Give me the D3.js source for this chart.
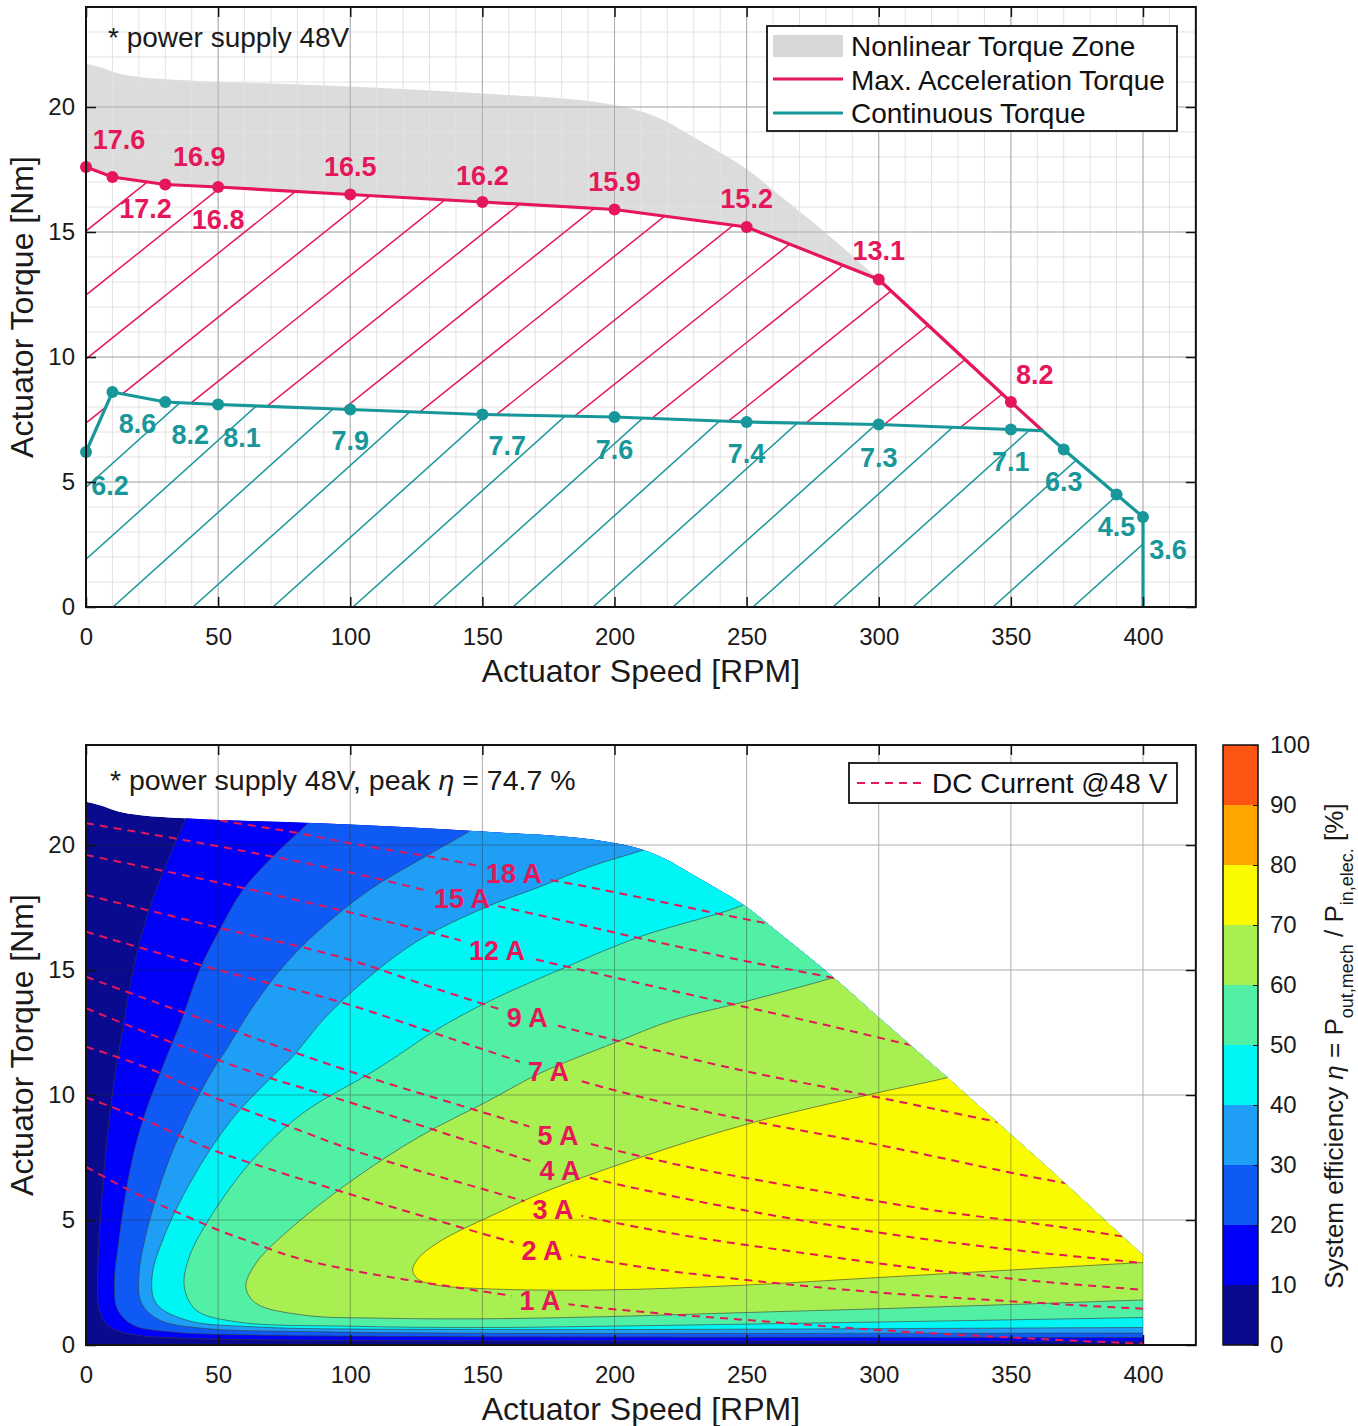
<!DOCTYPE html>
<html>
<head>
<meta charset="utf-8">
<script src="https://cdn.jsdelivr.net/npm/d3@7"></script>
<style>
  body { margin: 0; background: #fff; }
  svg { display: block; font-family: "Liberation Sans", Arial, Helvetica, sans-serif; }
</style>
</head>
<body>
<svg id="chart" width="1358" height="1426"></svg>
<script>
// ---- data ----
var speedTicks = [0, 50, 100, 150, 200, 250, 300, 350, 400];
var torqueTicks = [0, 5, 10, 15, 20];
var effTicks = [0, 10, 20, 30, 40, 50, 60, 70, 80, 90, 100];

var maxAccelRpm = [0, 10, 30, 50, 100, 150, 200, 250, 300, 350];
var maxAccelTorque = [17.6, 17.2, 16.9, 16.8, 16.5, 16.2, 15.9, 15.2, 13.1, 8.2];
var contRpm = [0, 10, 30, 50, 100, 150, 200, 250, 300, 350, 370, 390, 400];
var contTorque = [6.2, 8.6, 8.2, 8.1, 7.9, 7.7, 7.6, 7.4, 7.3, 7.1, 6.3, 4.5, 3.6];
var crossover = [362, 7.05]; // where the two curves meet

// upper limit of the map (also top of the nonlinear zone)
var torqueEnvelope = [[0, 21.73], [5, 21.6], [12.6, 21.33], [20, 21.2], [37.8, 21.07], [88.3, 20.87],
  [151.4, 20.53], [197, 20.13], [211, 19.8], [220, 19.4], [228.6, 18.87], [238, 18.3], [247.5, 17.7],
  [265, 16.25], [282.9, 14.7], [300, 13.1], [326, 10.7], [346, 8.8], [365, 7.0], [383, 5.25], [400, 3.6]];

// efficiency iso-lines (rpm, Nm)
var effLevels = [10, 20, 30, 40, 50, 60, 70];
var eff10 = [[43, 22.4], [37.8, 21.07], [31.5, 19.53], [25.2, 17.8], [20.2, 16.07], [16.4, 14.2], [13.2, 12.2],
  [11.3, 11.0], [8.8, 9.0], [6.9, 7.0], [5.0, 4.33], [4.4, 2.33], [5.0, 1.4], [8.8, 0.73], [18.9, 0.4],
  [37.8, 0.27], [75.7, 0.2], [151.4, 0.17], [400, 0.15], [410, 0.15]];
var eff20 = [[92, 21.7], [83.3, 20.8], [70.6, 19.53], [59.3, 18.2], [50.5, 16.6], [42.9, 15.0], [36.6, 13.13],
  [28.5, 11.0], [21.5, 9.0], [16.6, 7.0], [12.6, 4.33], [10.7, 2.33], [12.0, 1.4], [17.7, 0.8], [31.5, 0.53],
  [63, 0.4], [151, 0.33], [400, 0.3], [410, 0.3]];
var eff30 = [[155, 21.2], [143.8, 20.47], [126.1, 19.4], [107.2, 18.2], [88.3, 16.6], [75.7, 15.27], [63.1, 13.53],
  [53, 11.8], [48, 11.0], [38, 9.0], [30, 7.0], [22.5, 4.33], [20, 2.73], [21, 1.67], [27.8, 1.0], [44.1, 0.67],
  [88.3, 0.53], [151.4, 0.47], [400, 0.48], [410, 0.48]];
var eff40 = [[225, 20.3], [211, 19.8], [190.7, 19.13], [171.8, 18.33], [151, 17.5], [126.1, 16.2], [107.2, 14.73],
  [90.8, 13.13], [78.2, 11.53], [73, 11.0], [55, 9.0], [40, 6.6], [29.5, 4.33], [25, 2.73], [26.5, 1.67],
  [37.8, 1.0], [63, 0.73], [151, 0.62], [400, 0.7], [410, 0.7]];
var eff50 = [[262, 18.3], [247.5, 17.55], [209.6, 16.33], [181.9, 15.13], [151, 13.67], [132.5, 12.6], [117.3, 11.53],
  [108, 10.9], [82, 9.27], [63, 7.4], [48, 5.27], [39.1, 3.53], [37.2, 2.33], [41.6, 1.4], [56.8, 0.93],
  [100.9, 0.75], [151, 0.7], [195, 0.75], [300, 0.92], [400, 1.1], [410, 1.12]];
var eff60 = [[300, 15.3], [282.9, 14.7], [250, 13.75], [222.3, 13.0], [199.6, 12.07], [171.8, 10.87], [152, 9.75],
  [126.1, 8.33], [100.9, 6.6], [78.2, 4.73], [64.3, 3.27], [60.5, 2.33], [64.3, 1.67], [82, 1.2], [113.5, 1.07],
  [151.4, 1.05], [195, 1.13], [250, 1.3], [300, 1.45], [350, 1.62], [400, 1.8], [410, 1.83]];
var eff70 = [[345, 11.3], [326, 10.7], [300, 10.1], [252.4, 8.9], [209.6, 7.5], [173, 6.1], [151, 5.05], [140, 4.5],
  [132.5, 4.05], [126, 3.5], [123.6, 3.0], [125.5, 2.65], [132.5, 2.4], [151, 2.25], [195, 2.2], [250, 2.4],
  [300, 2.7], [350, 3.0], [400, 3.3], [410, 3.35]];

// DC current lines @48 V (rpm, Nm)
var currentAmps = [1, 2, 3, 4, 5, 7, 9, 12, 15, 18];
var currentLabelRpm = [171.8, 172.6, 176.7, 179.4, 178.6, 175, 167, 155.5, 142.3, 162];
var dc1A = [[0, 7.13], [12.6, 6.4], [25, 5.75], [38, 5.15], [50, 4.6], [63, 4.1], [76, 3.6], [100, 3.0], [126, 2.53],
  [151, 2.13], [172, 1.8], [185, 1.6], [210, 1.33], [250, 1.0], [300, 0.6], [350, 0.3], [400, 0.06], [410, 0.03]];
var dc2A = [[0, 9.9], [20, 9.1], [48, 7.8], [70.6, 7.0], [100.9, 6.0], [126, 5.2], [158.6, 4.2], [172.6, 3.8],
  [187, 3.53], [209.6, 3.13], [250, 2.6], [300, 2.1], [350, 1.75], [400, 1.45], [410, 1.4]];
var dc3A = [[0, 11.93], [25.2, 11.0], [47.9, 9.93], [70.6, 9.0], [100.9, 7.8], [151.4, 6.2], [176.7, 5.44],
  [220, 4.5], [270, 3.7], [320, 3.0], [360, 2.55], [400, 2.2], [410, 2.1]];
var dc4A = [[0, 13.47], [30, 12.2], [60.5, 11.0], [100.9, 9.67], [151.4, 7.93], [179.4, 7.0], [220, 6.0],
  [270, 5.0], [320, 4.2], [360, 3.7], [400, 3.27], [410, 3.15]];
var dc5A = [[0, 14.73], [50, 12.8], [98.4, 11.0], [151.4, 9.27], [178.6, 8.4], [220, 7.3], [270, 6.3],
  [320, 5.4], [370, 4.7], [395, 4.3], [410, 4.05]];
var dc7A = [[0, 16.53], [50, 15.0], [100, 13.6], [134, 12.4], [156.7, 11.6], [175, 10.95], [209.6, 9.93],
  [250, 9.0], [300, 8.0], [366.7, 6.55], [380, 6.3]];
var dc9A = [[0, 18.0], [50, 16.7], [100, 15.4], [134, 14.2], [167, 13.1], [200, 12.2], [247.5, 11.0],
  [300, 9.9], [346, 8.9], [365, 8.5]];
var dc12A = [[0, 19.6], [50, 18.5], [100, 17.3], [134, 16.4], [155.5, 15.8], [200, 14.7], [246, 13.6],
  [280, 12.8], [310, 12.05], [330, 11.6]];
var dc15A = [[0, 20.87], [50, 19.95], [100, 18.9], [142.3, 17.85], [160.5, 17.45], [209.6, 16.27],
  [247.5, 15.4], [282, 14.7], [300, 14.3]];
var dc18A = [[30, 21.45], [46.7, 21.07], [80.7, 20.47], [100, 20.07], [143.8, 19.27], [162, 18.85],
  [179.4, 18.53], [245, 17.13], [275, 16.5]];

// ---- styling / layout ----
var red = '#e6165a', teal = '#17979a';
var bandColors = ['#0a0a8f', '#0000fa', '#0f5af5', '#1e9ef5', '#00f5f5', '#52f0a5', '#a8f052', '#fafa00', '#ffa500', '#ff5514'];
var maxLabelOffset = [[33, -28], [33, 31], [34, -28], [0, 32], [0, -28], [0, -27], [0, -28], [0, -29], [0, -29], [24, -28]];
var contLabelOffset = [[24, 33], [25, 31], [25, 32], [24, 33], [0, 31], [25, 31], [0, 32], [0, 31], [0, 33], [0, 32], [0, 32], [0, 32], [25, 32]];
var hatchStep = 80;
var redHatch = { slope: 0.8, phase: 16 }, tealHatch = { slope: 0.9, phase: 113 };

var svg = d3.select('#chart');
var defs = svg.append('defs');

var x = d3.scaleLinear().domain([0, 420]).range([86, 86 + 420 * 1057 / 400]);
var yTop = d3.scaleLinear().domain([0, 24]).range([607, 7]);
var yBot = d3.scaleLinear().domain([0, 24]).range([1345, 745]);
var yBar = d3.scaleLinear().domain([0, 100]).range([1345, 745]);

function lineFor(yS, curve) {
    return d3.line().x(function (d) { return x(d[0]); }).y(function (d) { return yS(d[1]); }).curve(curve || d3.curveLinear);
}

function drawGrid(g, yS, step, ystep, color) {
    g.selectAll(null).data(d3.range(step, 420, step)).enter().append('line')
        .attr('x1', function (d) { return x(d); }).attr('x2', function (d) { return x(d); })
        .attr('y1', yS(0)).attr('y2', yS(24))
        .attr('stroke', color).attr('stroke-width', 1);
    g.selectAll(null).data(d3.range(ystep, 24, ystep)).enter().append('line')
        .attr('x1', x(0)).attr('x2', x(420))
        .attr('y1', function (d) { return yS(d); }).attr('y2', function (d) { return yS(d); })
        .attr('stroke', color).attr('stroke-width', 1);
}

function drawAxes(g, yS) {
    g.append('g').attr('transform', 'translate(0,' + yS(0) + ')')
        .call(d3.axisBottom(x).tickValues(speedTicks).tickSizeInner(-10).tickSizeOuter(0).tickPadding(21));
    g.append('g').attr('transform', 'translate(' + x(0) + ',0)')
        .call(d3.axisLeft(yS).tickValues(torqueTicks).tickSizeInner(-10).tickSizeOuter(0).tickPadding(11));
    g.append('g').attr('transform', 'translate(0,' + yS(24) + ')')
        .call(d3.axisTop(x).tickValues(speedTicks).tickSizeInner(-10).tickSizeOuter(0).tickFormat(''));
    g.append('g').attr('transform', 'translate(' + x(420) + ',0)')
        .call(d3.axisRight(yS).tickValues(torqueTicks).tickSizeInner(-10).tickSizeOuter(0).tickFormat(''));
    g.selectAll('.domain').remove();
    g.selectAll('.tick line').attr('stroke', '#111').attr('stroke-width', 1.5);
    g.selectAll('.tick text').attr('font-size', 24).attr('fill', '#1a1a1a')
        .attr('font-family', '"Liberation Sans", Arial, sans-serif');
    g.append('rect').attr('x', x(0)).attr('y', yS(24)).attr('width', x(420) - x(0)).attr('height', yS(0) - yS(24))
        .attr('fill', 'none').attr('stroke', '#111').attr('stroke-width', 2);
    g.append('text').attr('x', (x(0) + x(420)) / 2).attr('y', yS(0) + 75)
        .attr('text-anchor', 'middle').attr('font-size', 32).attr('fill', '#1a1a1a')
        .text('Actuator Speed [RPM]');
    g.append('text').attr('transform', 'translate(33,' + yS(12) + ') rotate(-90)')
        .attr('text-anchor', 'middle').attr('font-size', 32).attr('fill', '#1a1a1a')
        .text('Actuator Torque [Nm]');
}

// ================= top chart =================
var topG = svg.append('g');
var maxPts = maxAccelRpm.map(function (r, i) { return [r, maxAccelTorque[i]]; });
var contPts = contRpm.map(function (r, i) { return [r, contTorque[i]]; });
var maxLinePts = maxPts.concat([crossover]);
var contBefore = contPts.filter(function (d) { return d[0] < crossover[0]; });
var contAfter = contPts.filter(function (d) { return d[0] > crossover[0]; });
var contLinePts = contBefore.concat([crossover], contAfter);

// nonlinear zone between the envelope and the max acceleration curve
var zoneTop = torqueEnvelope.filter(function (d) { return d[0] <= 300; });
var zoneBottom = maxPts.filter(function (d) { return d[0] <= 300; }).reverse();
var zonePath = lineFor(yTop, d3.curveMonotoneX)(zoneTop) + 'L' +
    zoneBottom.map(function (d) { return x(d[0]) + ',' + yTop(d[1]); }).join('L') + 'Z';
topG.append('path').attr('d', zonePath).attr('fill', '#dcdcdc');

drawGrid(topG.append('g'), yTop, 10, 1, '#e2e2e2');
drawGrid(topG.append('g'), yTop, 50, 5, '#ababab');

// hatch regions
var redPoly = maxLinePts.concat(contBefore.concat([crossover]).reverse());
var tealPoly = contLinePts.concat([[400, 0], [0, 0]]);
defs.append('clipPath').attr('id', 'clipRedHatch').append('path').attr('d', lineFor(yTop)(redPoly) + 'Z');
defs.append('clipPath').attr('id', 'clipTealHatch').append('path').attr('d', lineFor(yTop)(tealPoly) + 'Z');

[['clipRedHatch', red, redHatch], ['clipTealHatch', teal, tealHatch]].forEach(function (h) {
    var hx = d3.range(-10, 16).map(function (k) { return h[2].phase + k * hatchStep; });
    topG.append('g').attr('clip-path', 'url(#' + h[0] + ')')
        .selectAll('line').data(hx).enter().append('line')
        .attr('x1', function (d) { return d; }).attr('y1', yTop(0))
        .attr('x2', function (d) { return d + 620 / h[2].slope; }).attr('y2', yTop(0) - 620)
        .attr('stroke', h[1]).attr('stroke-width', 1.5);
});

topG.append('path').attr('d', lineFor(yTop)(maxLinePts))
    .attr('fill', 'none').attr('stroke', red).attr('stroke-width', 3.2);
topG.append('path').attr('d', lineFor(yTop)(contLinePts.concat([[400, 0]])))
    .attr('fill', 'none').attr('stroke', teal).attr('stroke-width', 3.2);

topG.selectAll('.mdot').data(maxPts).enter().append('circle')
    .attr('cx', function (d) { return x(d[0]); }).attr('cy', function (d) { return yTop(d[1]); })
    .attr('r', 6).attr('fill', red);
topG.selectAll('.cdot').data(contPts).enter().append('circle')
    .attr('cx', function (d) { return x(d[0]); }).attr('cy', function (d) { return yTop(d[1]); })
    .attr('r', 6).attr('fill', teal);

topG.selectAll('.mlab').data(maxPts).enter().append('text')
    .attr('x', function (d, i) { return x(d[0]) + maxLabelOffset[i][0]; })
    .attr('y', function (d, i) { return yTop(d[1]) + maxLabelOffset[i][1]; })
    .attr('dy', '0.36em').attr('text-anchor', 'middle')
    .attr('font-size', 27).attr('font-weight', 'bold').attr('fill', red)
    .text(function (d) { return d[1].toFixed(1); });
topG.selectAll('.clab').data(contPts).enter().append('text')
    .attr('x', function (d, i) { return x(d[0]) + contLabelOffset[i][0]; })
    .attr('y', function (d, i) { return yTop(d[1]) + contLabelOffset[i][1]; })
    .attr('dy', '0.36em').attr('text-anchor', 'middle')
    .attr('font-size', 27).attr('font-weight', 'bold').attr('fill', teal)
    .text(function (d) { return d[1].toFixed(1); });

drawAxes(topG.append('g'), yTop);

topG.append('text').attr('x', 108).attr('y', 47).attr('font-size', 28).attr('fill', '#1a1a1a')
    .text('* power supply 48V');

// legend
var lg = topG.append('g');
lg.append('rect').attr('x', 767).attr('y', 26).attr('width', 410).attr('height', 105)
    .attr('fill', '#fff').attr('stroke', '#111').attr('stroke-width', 1.8);
lg.append('rect').attr('x', 773).attr('y', 35).attr('width', 70).attr('height', 22).attr('fill', '#d8d8d8');
lg.append('line').attr('x1', 773).attr('x2', 843).attr('y1', 79).attr('y2', 79).attr('stroke', red).attr('stroke-width', 3.2);
lg.append('line').attr('x1', 773).attr('x2', 843).attr('y1', 113).attr('y2', 113).attr('stroke', teal).attr('stroke-width', 3.2);
['Nonlinear Torque Zone', 'Max. Acceleration Torque', 'Continuous Torque'].forEach(function (t, i) {
    lg.append('text').attr('x', 851).attr('y', 56 + i * 33.5).attr('font-size', 28).attr('fill', '#111').text(t);
});

// ================= bottom chart =================
var botG = svg.append('g');
var envTop = lineFor(yBot, d3.curveMonotoneX)(torqueEnvelope);
var envPath = 'M' + x(0) + ',' + yBot(0) + 'L' + envTop.slice(1) + 'L' + x(400) + ',' + yBot(0) + 'Z';
defs.append('clipPath').attr('id', 'envClip').append('path').attr('d', envPath);

var effCurves = [eff10, eff20, eff30, eff40, eff50, eff60, eff70];
var contourLine = lineFor(yBot, d3.curveCatmullRom.alpha(0.5));
var bands = botG.append('g').attr('clip-path', 'url(#envClip)');
bands.append('path').attr('d', envPath).attr('fill', bandColors[0]);
effCurves.forEach(function (pts, i) {
    var start = pts[0], end = pts[pts.length - 1];
    var d = contourLine(pts) + 'L' + x(end[0]) + ',' + yBot(25) + 'L' + x(start[0]) + ',' + yBot(25) + 'Z';
    bands.append('path').attr('d', d).attr('fill', bandColors[effLevels[i] / 10]);
});
effCurves.forEach(function (pts) {
    bands.append('path').attr('d', contourLine(pts)).attr('fill', 'none')
        .attr('stroke', '#3a3a3a').attr('stroke-opacity', 0.6).attr('stroke-width', 1);
});

drawGrid(botG.append('g').attr('opacity', 0.38), yBot, 50, 5, '#2a2a2a');

// DC current lines with gaps behind labels
var currentCurves = [dc1A, dc2A, dc3A, dc4A, dc5A, dc7A, dc9A, dc12A, dc15A, dc18A];
var labelG = botG.append('g');
var gaps = [];
currentCurves.forEach(function (pts, i) {
    var interp = d3.scaleLinear().domain(pts.map(function (d) { return d[0]; })).range(pts.map(function (d) { return d[1]; }));
    var r = currentLabelRpm[i];
    var t = labelG.append('text').attr('x', x(r)).attr('y', yBot(interp(r))).attr('dy', '0.36em')
        .attr('text-anchor', 'middle').attr('font-size', 27).attr('font-weight', 'bold').attr('fill', red)
        .text(currentAmps[i] + ' A');
    var bb = t.node().getBBox();
    gaps.push([bb.x - 8, bb.y + 2, bb.width + 16, bb.height - 4]);
});
var mask = defs.append('mask').attr('id', 'gapMask').attr('maskUnits', 'userSpaceOnUse')
    .attr('x', 0).attr('y', 0).attr('width', 1358).attr('height', 1426);
mask.append('rect').attr('width', 1358).attr('height', 1426).attr('fill', '#fff');
gaps.forEach(function (g) {
    mask.append('rect').attr('x', g[0]).attr('y', g[1]).attr('width', g[2]).attr('height', g[3]).attr('fill', '#000');
});
var dashG = botG.insert('g', function () { return labelG.node(); }).attr('clip-path', 'url(#envClip)')
    .append('g').attr('mask', 'url(#gapMask)');
var currentLine = lineFor(yBot, d3.curveMonotoneX);
currentCurves.forEach(function (pts) {
    dashG.append('path').attr('d', currentLine(pts)).attr('fill', 'none')
        .attr('stroke', red).attr('stroke-width', 2).attr('stroke-dasharray', '8,6');
});

drawAxes(botG.append('g'), yBot);

var note = botG.append('text').attr('x', 110).attr('y', 790).attr('font-size', 28.5).attr('fill', '#1a1a1a');
note.append('tspan').text('* power supply 48V, peak ');
note.append('tspan').attr('font-style', 'italic').text('\u03b7');
note.append('tspan').text(' = 74.7 %');

var lg2 = botG.append('g');
lg2.append('rect').attr('x', 849).attr('y', 763).attr('width', 328).attr('height', 40)
    .attr('fill', '#fff').attr('stroke', '#111').attr('stroke-width', 1.8);
lg2.append('line').attr('x1', 857).attr('x2', 925).attr('y1', 783).attr('y2', 783)
    .attr('stroke', red).attr('stroke-width', 2).attr('stroke-dasharray', '8,6');
lg2.append('text').attr('x', 932).attr('y', 793).attr('font-size', 28).attr('fill', '#111').text('DC Current @48 V');

// colorbar
var cb = svg.append('g');
cb.selectAll('rect').data(d3.range(10)).enter().append('rect')
    .attr('x', 1223).attr('width', 35)
    .attr('y', function (d) { return yBar((d + 1) * 10); })
    .attr('height', function (d) { return yBar(d * 10) - yBar((d + 1) * 10); })
    .attr('fill', function (d) { return bandColors[d]; });
cb.append('rect').attr('x', 1223).attr('y', yBar(100)).attr('width', 35).attr('height', yBar(0) - yBar(100))
    .attr('fill', 'none').attr('stroke', '#111').attr('stroke-width', 1.5);
cb.append('g').attr('transform', 'translate(1258,0)')
    .call(d3.axisRight(yBar).tickValues(effTicks).tickSizeInner(-5).tickSizeOuter(0).tickPadding(12))
    .call(function (g) {
        g.select('.domain').remove();
        g.selectAll('.tick line').attr('stroke', '#111');
        g.selectAll('.tick text').attr('font-size', 24).attr('fill', '#1a1a1a')
            .attr('font-family', '"Liberation Sans", Arial, sans-serif');
    });
var cbl = cb.append('text').attr('transform', 'translate(1343,1046) rotate(-90)')
    .attr('text-anchor', 'middle').attr('font-size', 26).attr('fill', '#1a1a1a');
cbl.append('tspan').text('System efficiency  ');
cbl.append('tspan').attr('font-style', 'italic').text('\u03b7');
cbl.append('tspan').text(' = P');
cbl.append('tspan').attr('font-size', 18).attr('baseline-shift', 'sub').text('out,mech');
cbl.append('tspan').text(' / P');
cbl.append('tspan').attr('font-size', 18).attr('baseline-shift', 'sub').text('in,elec.');
cbl.append('tspan').text('  [%]');
</script>
</body>
</html>
